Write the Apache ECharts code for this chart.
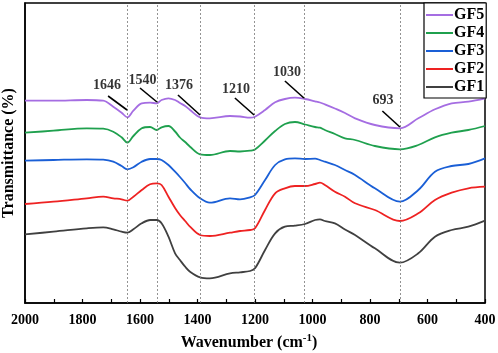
<!DOCTYPE html>
<html><head><meta charset="utf-8">
<script src="https://cdn.jsdelivr.net/npm/echarts@6/dist/echarts.min.js"></script>
<style>html,body{margin:0;padding:0;background:#fff}#c{width:498px;height:353px}</style>
</head><body><div id="c"></div>
<script>
const wavenumbers = [2000,1901,1785,1728,1693,1664,1644,1623,1594,1565,1542,1525,1501,1478,1461,1443,1426,1391,1357,1287,1252,1217,1200,1165,1130,1096,1061,1026,991,974,957,922,887,852,783,696,632,574,516,458,400];
const gf5 = [202.3,202.3,203,202.3,196.3,190.3,185.7,192.3,199.7,200.3,199.7,203,204.7,203,200,197,193,185.7,184.7,187,186.5,185.3,186.3,193,200.7,204,205.3,204,201.7,200.5,198.7,194.5,190,184.7,178,174.7,184.7,193.7,199.7,201.3,204.7];
const gf4 = [170.3,172.3,174.7,174.3,171.3,165.7,160.3,167,174.7,176,173,175.7,177,171.5,165.5,161,156.3,148.7,148,152,151.5,152.3,153.5,162.5,172,179,181,178.5,176,175.3,173,169,164.7,163,157,153.7,158,165.7,170.3,173,177];
const gf3 = [142.3,143,143.7,143.3,141.3,137,133.7,135.7,141.3,144,144,143,138,131.3,126,120,114,104.7,100.3,104.7,103.7,105.7,108,123,138,143.7,144.7,144,144.3,143,141.3,138,133,128,114.7,101.3,113,131.3,137,139,144.7];
const gf2 = [99,101.3,104.7,106.3,104.7,103.7,102.3,106.3,113,118.7,119.7,118,106.3,95,88,82,76.3,68,67,70.3,72,73,74.7,93,109.7,114.7,117,117,119,120.3,118,111.3,106.3,99.7,93,82,89.7,103,110.3,114.7,116.3];
const gf1 = [68.7,71.3,74.7,75.7,73.7,71.3,70.3,73.7,79.7,83,83,79.7,66.3,49.7,43,36.3,31.3,25.7,24.7,29.7,30.7,32,34.7,53,69.7,76.3,77.3,79,83,83.7,82,79.7,73.5,68,54.7,40.3,49.7,66.3,73,76.3,82.3];
const seriesNames = ['GF5','GF4','GF3','GF2','GF1'];
const seriesColors = ['#a56de2','#1fa04e','#1a5fd6','#ee2222','#404040'];
const peakPositions = [1646,1540,1391,1203,1028,695];
const peakLabels = ['1646','1540','1376','1210','1030','693'];
const labelAt = [[1715,218],[1591,223],[1464,218],[1266,214],[1089,231],[755,202.5]];
const leaderFrom = [[1711,207],[1600,215],[1468,208],[1270,205],[1096,222],[757,192]];
const leaderTo = [[1645,193],[1541,201],[1391,188],[1203,188],[1030,205],[696,176]];

const allData = [gf5,gf4,gf3,gf2,gf1];
const font = 'Liberation Serif';
const series = allData.map((vals,i)=>({
  name: seriesNames[i], type:'line', smooth:0.35, symbol:'none',
  data: wavenumbers.map((w,j)=>[w,vals[j]]),
  lineStyle:{color:seriesColors[i], width:1.8}, itemStyle:{color:seriesColors[i]},
  z: 3
}));
series.push({
  type:'scatter', symbolSize:0, silent:true, z:5,
  data: labelAt.map((p,i)=>({value:[p[0],p[1]], name:peakLabels[i]})),
  label:{show:true, position:'inside', formatter:p=>p.name, color:'#000', fontFamily:font, fontWeight:'bold', fontSize:14},
  markLine:{
    silent:true, symbol:['none','none'], animation:false,
    label:{show:false},
    data: [
      ...peakPositions.map(x=>({xAxis:x, lineStyle:{type:[2,2], color:'#777', width:0.8}})),
      ...leaderFrom.map((p,i)=>[{coord:p, lineStyle:{type:'solid', color:'#000', width:1.6}},{coord:leaderTo[i]}])
    ]
  }
});
const chart = echarts.init(document.getElementById('c'));
chart.setOption({
  animation:false,
  grid:{left:25, right:13, top:3, bottom:50, outerBoundsMode:'none', containLabel:false, show:true, borderColor:'#000', borderWidth:1.5, backgroundColor:'transparent'},
  legend:{
    data:seriesNames, orient:'vertical', left:424, top:3, itemWidth:27, itemHeight:2, itemGap:2,
    icon:'rect',
    padding:[4,2,3,2], borderColor:'#000', borderWidth:1.2, backgroundColor:'#fff',
    textStyle:{fontFamily:font, fontWeight:'bold', fontSize:16, color:'#000', padding:[0,0,0,-4]}
  },
  xAxis:{
    type:'value', min:400, max:2000, interval:200, inverse:true,
    axisLine:{show:true, lineStyle:{color:'#000', width:1.5}},
    axisTick:{show:true, inside:true, length:4, lineStyle:{color:'#000', width:1.2}},
    minorTick:{show:true, splitNumber:2, length:4, lineStyle:{color:'#000', width:1.2}},
    splitLine:{show:false},
    axisLabel:{fontFamily:font, fontWeight:'bold', fontSize:14, color:'#000', margin:10, formatter:v=>String(v)},
    name:'{b|Wavenumber (cm}{s|-1}{b|)}', nameLocation:'middle', nameGap:30,
    nameTextStyle:{padding:[0,12,0,0], rich:{b:{fontFamily:font, fontWeight:'bold', fontSize:16, color:'#000'}, s:{fontFamily:font, fontWeight:'bold', fontSize:11, color:'#000', verticalAlign:'top', padding:[0,0,8,0]}}}
  },
  yAxis:{
    type:'value', min:0, max:300,
    axisLine:{show:true, lineStyle:{color:'#000', width:1.5}},
    axisTick:{show:false}, axisLabel:{show:false}, splitLine:{show:false},
    name:'Transmittance (%)', nameLocation:'middle', nameGap:8,
    nameTextStyle:{fontFamily:font, fontWeight:'bold', fontSize:16, color:'#000'}
  },
  series: series
});
</script></body></html>
